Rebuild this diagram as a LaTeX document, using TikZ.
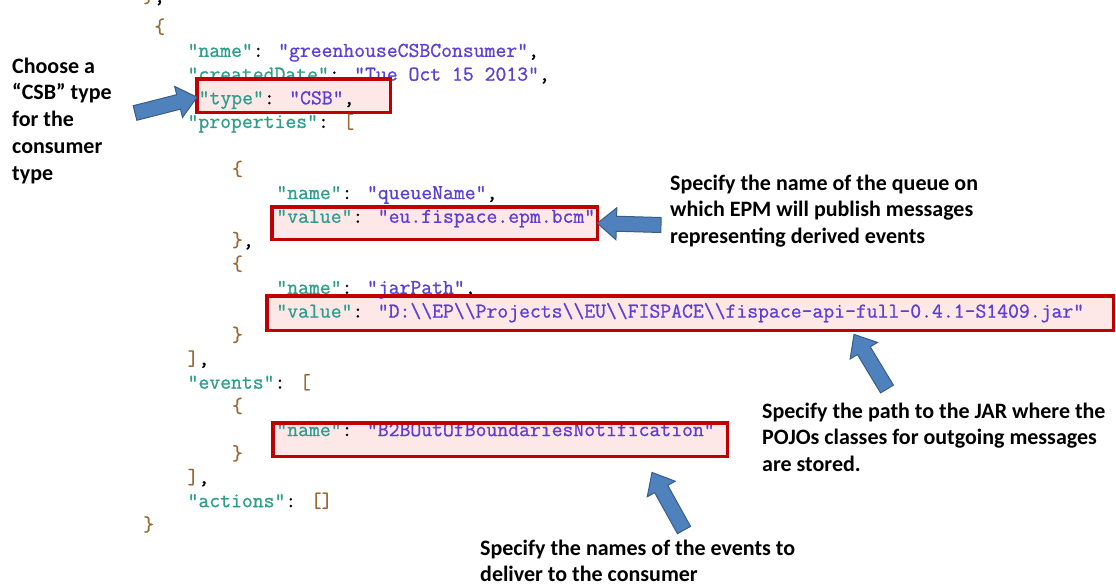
\documentclass[tikz,border=0pt]{standalone}
\usepackage{fontspec}
\setmainfont{Carlito}
\newfontfamily\codefont{Latin Modern Mono}[FakeBold=0.9, Ligatures=TeXOff]
\usetikzlibrary{calc}

\definecolor{jsonkey}{HTML}{2E9E8C}
\definecolor{jsonval}{HTML}{5B3FD8}
\definecolor{jsonbrace}{HTML}{9A6A35}
\definecolor{boxred}{HTML}{C00000}
\definecolor{boxfill}{HTML}{FDE7E7}
\definecolor{arrowfill}{HTML}{4F81BD}
\definecolor{arrowline}{HTML}{385D8A}

\newcommand{\jkey}[1]{\textcolor{jsonkey}{#1}}
\newcommand{\jval}[1]{\textcolor{jsonval}{#1}}
\newcommand{\jbr}[1]{\textcolor{jsonbrace}{#1}}
\newcommand{\bsl}{\textbackslash}

% block arrow from a tail point to a tip point
\newcommand{\calloutarrow}[2]{%
  \path ($(#2)!19pt!(#1)$) coordinate (#2-hb);
  \filldraw[callout]
    ($(#1)!7.5pt!90:(#2)$) -- ($(#2-hb)!7.5pt!90:(#2)$) --
    ($(#2-hb)!16pt!90:(#2)$) -- (#2) --
    ($(#2-hb)!16pt!-90:(#2)$) -- ($(#2-hb)!7.5pt!-90:(#2)$) --
    ($(#1)!7.5pt!-90:(#2)$) -- cycle;
}

\tikzset{
  code/.style={font=\codefont\fontsize{21.1}{24}\selectfont, inner sep=0, anchor=mid west, text=black},
  hlfill/.style={fill=boxfill, draw=none, inner sep=0, anchor=north west},
  hlborder/.style={draw=boxred, line width=3.2pt},
  callout/.style={fill=arrowfill, draw=arrowline, line width=1pt, line join=miter},
  note/.style={font=\fontsize{22}{26.8}\selectfont\bfseries, inner sep=0, anchor=base west, text=black},
}

\begin{document}
\begin{tikzpicture}[x=1pt,y=-1pt]
\useasboundingbox (0,0) rectangle (1116,587);
\clip (0,0) rectangle (1116,587);
\fill[white] (0,0) rectangle (1116,587);

% highlight backgrounds
\node[hlfill, minimum width=193pt, minimum height=33pt] (typebox) at (197,79) {};
\node[hlfill, minimum width=325pt, minimum height=32pt] (queuebox) at (272,207) {};
\node[hlfill, minimum width=846pt, minimum height=34pt] (jarbox) at (267,296) {};
\node[hlfill, minimum width=454pt, minimum height=33pt] (eventbox) at (273,423) {};

% JSON listing
\node[code] (l0)  at (143,0)     {\jbr{\}},};
\node[code] (l1)  at (154.1,30.8)  {\jbr{\{}};
\node[code] (l2)  at (187.4,54.5)  {\jkey{"name"}: \jval{"greenhouseCSBConsumer"},};
\node[code] (l3)  at (187.4,78.2)  {\jkey{"createdDate"}: \jval{"Tue Oct 15 2013"},};
\node[code] (l4)  at (198.5,101.9) {\jkey{"type"}: \jval{"CSB"},};
\node[code] (l5)  at (187.4,125.6) {\jkey{"properties"}: \jbr{[}};
\node[code] (l6)  at (231.8,173.0) {\jbr{\{}};
\node[code] (l7)  at (276.2,196.7) {\jkey{"name"}: \jval{"queueName"},};
\node[code] (l8)  at (276.2,220.4) {\jkey{"value"}: \jval{"eu.fispace.epm.bcm"}};
\node[code] (l9)  at (231.8,244.1) {\jbr{\}},};
\node[code] (l10) at (231.8,267.8) {\jbr{\{}};
\node[code] (l11) at (276.2,291.5) {\jkey{"name"}: \jval{"jarPath"},};
\node[code] (l12) at (276.2,315.2) {\jkey{"value"}: \jval{"D:\bsl\bsl EP\bsl\bsl Projects\bsl\bsl EU\bsl\bsl FISPACE\bsl\bsl fispace-api-full-0.4.1-S1409.jar"}};
\node[code] (l13) at (231.8,338.9) {\jbr{\}}};
\node[code] (l14) at (187.4,362.6) {\jbr{]},};
\node[code] (l15) at (187.4,386.3) {\jkey{"events"}: \jbr{[}};
\node[code] (l16) at (231.8,410.0) {\jbr{\{}};
\node[code] (l17) at (276.2,433.7) {\jkey{"name"}: \jval{"B2BOutOfBoundariesNotification"}};
\node[code] (l18) at (231.8,457.4) {\jbr{\}}};
\node[code] (l19) at (187.4,481.1) {\jbr{]},};
\node[code] (l20) at (187.4,504.8) {\jkey{"actions"}: \jbr{[]}};
\node[code] (l21) at (143,528.5)   {\jbr{\}}};

% highlight frames
\draw[hlborder] (typebox.north west) rectangle (typebox.south east);
\draw[hlborder] (queuebox.north west) rectangle (queuebox.south east);
\draw[hlborder] (jarbox.north west) rectangle (jarbox.south east);
\draw[hlborder] (eventbox.north west) rectangle (eventbox.south east);

% annotations
\node[note] (typenote) at (12,73) {\begin{tabular}[t]{@{}l@{}}Choose a\\“CSB” type\\for the\\consumer\\type\end{tabular}};
\node[note] (queuenote) at (670,190) {\begin{tabular}[t]{@{}l@{}}Specify the name of the queue on\\which EPM will publish messages\\representing derived events\end{tabular}};
\node[note] (jarnote) at (762,418) {\begin{tabular}[t]{@{}l@{}}Specify the path to the JAR where the\\POJOs classes for outgoing messages\\are stored.\end{tabular}};
\node[note] (eventnote) at (480,555) {\begin{tabular}[t]{@{}l@{}}Specify the names of the events to\\deliver to the consumer\end{tabular}};

% callout arrows
\coordinate (a1tail) at (135,113);
\coordinate (a1tip) at ($(typebox.west)+(0,1.5)$);
\coordinate (a2tail) at (661,225);
\coordinate (a2tip) at (queuebox.east);
\coordinate (a3tail) at (887,389);
\coordinate (a3tip) at ($(jarbox.south west)+(587,4)$);
\coordinate (a4tail) at (684,530);
\coordinate (a4tip) at ($(eventbox.south west)+(379,16)$);
\calloutarrow{a1tail}{a1tip}
\calloutarrow{a2tail}{a2tip}
\calloutarrow{a3tail}{a3tip}
\calloutarrow{a4tail}{a4tip}
\end{tikzpicture}
\end{document}
